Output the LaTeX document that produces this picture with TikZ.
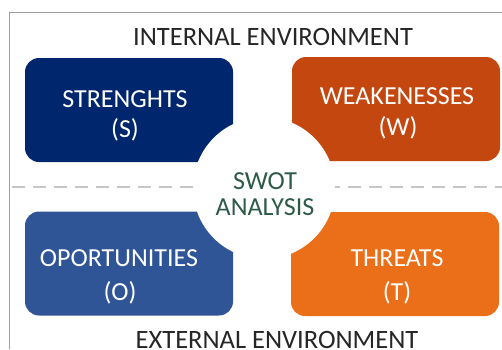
\documentclass[tikz,border=0pt]{standalone}
\usepackage{fontspec}
\setmainfont{Carlito}
\definecolor{cS}{HTML}{00266E}
\definecolor{cW}{HTML}{C4470F}
\definecolor{cO}{HTML}{2F5597}
\definecolor{cT}{HTML}{EB6E18}
\definecolor{cSwot}{HTML}{2E5A48}
\begin{document}
\begin{tikzpicture}[x=1pt,y=-1pt,
  box/.style={rounded corners=14pt, minimum width=208pt, minimum height=104pt, inner sep=0pt},
  lbl/.style={text=white, inner sep=0pt, font=\fontsize{26}{30}\selectfont},
  env/.style={text=black!85, inner sep=0pt, font=\fontsize{26.5}{30}\selectfont}]
\useasboundingbox (0,0) rectangle (502,349);
\coordinate (fb) at (9,349);
\coordinate (fc) at (9,12);
\coordinate (fr) at (502,12);
\draw[gray!75, line width=1pt] (fb) -- (fc) -- (fr);
\coordinate (dl) at (12,187);
\coordinate (dr) at (502,187);
\draw[gray!45, dash pattern=on 13pt off 8pt, line width=1.3pt] (dl) -- (dr);
\node[box, fill=cS] (s) at (129,110) {};
\node[box, fill=cW] (w) at (396,109) {};
\node[box, fill=cO] (o) at (129,263.5) {};
\node[box, fill=cT] (t) at (395,264) {};
\node[circle, fill=white, minimum size=142pt, inner sep=0pt] (c) at (264,188) {};
\node[lbl] (s1) at (125,99) {STRENGHTS};
\node[lbl] (s2) at (125,130) {(S)};
\node[lbl] (w1) at (397,96) {WEAKENESSES};
\node[lbl] (w2) at (398,128) {(W)};
\node[lbl] (o1) at (119,258) {OPORTUNITIES};
\node[lbl] (o2) at (120,293) {(O)};
\node[lbl] (t1) at (397,258) {THREATS};
\node[lbl] (t2) at (397,293) {(T)};
\node[env] (ie) at (273,37) {INTERNAL ENVIRONMENT};
\node[env] (ee) at (277,340) {EXTERNAL ENVIRONMENT};
\node[text=cSwot, inner sep=0pt, font=\fontsize{26}{30}\selectfont] (sw1) at (265,181) {SWOT};
\node[text=cSwot, inner sep=0pt, font=\fontsize{26}{30}\selectfont] (sw2) at (265,207) {ANALYSIS};
\end{tikzpicture}
\end{document}
